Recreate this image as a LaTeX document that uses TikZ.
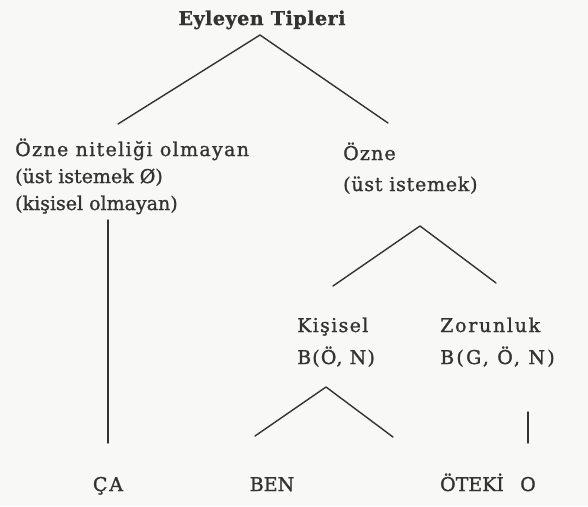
\documentclass[tikz,border=0pt]{standalone}
\usepackage{fontspec}
\setmainfont{DejaVu Serif}[FakeBold=1.2]
\definecolor{ink}{HTML}{333333}
\definecolor{paper}{HTML}{F8F8F6}
\newcommand{\ls}[1]{\addfontfeatures{LetterSpace=#1}}
\begin{document}
\begin{tikzpicture}[x=1pt,y=-1pt,
  lbl/.style={inner sep=0pt, text=ink, font=\fontsize{19}{22}\selectfont},
  branch/.style={draw=ink, line width=1.4pt, line join=round, line cap=round}]
\fill[paper] (0,0) rectangle (588,506);
\useasboundingbox (0,0) rectangle (588,506);
% labels
\node[lbl, anchor=base, font=\bfseries\fontsize{19}{22}\selectfont] (root) at (262,25) {\ls{3}Eyleyen Tipleri};
\node[lbl, anchor=base west] (nonA) at (15,156) {\ls{7}Özne niteliği olmayan};
\node[lbl, anchor=base west] (nonB) at (15,183) {(üst istemek Ø)};
\node[lbl, anchor=base west] (nonC) at (15,210) {(kişisel olmayan)};
\node[lbl, anchor=base west] (subA) at (343,160) {\ls{6}Özne};
\node[lbl, anchor=base west] (subB) at (343,191) {\ls{4}(üst istemek)};
\node[lbl, anchor=base west] (kisA) at (297,332) {\ls{7}Kişisel};
\node[lbl, anchor=base west] (kisB) at (297,364) {\ls{6}B(Ö, N)};
\node[lbl, anchor=base west] (zorA) at (440,332) {\ls{9}Zorunluk};
\node[lbl, anchor=base west] (zorB) at (440,364) {\ls{12}B(G, Ö, N)};
\node[lbl, anchor=base] (ca) at (108,491) {\ls{10}ÇA};
\node[lbl, anchor=base] (ben) at (272,491) {BEN};
\node[lbl, anchor=base] (oteki) at (472,491) {ÖTEKİ};
\node[lbl, anchor=base] (o) at (528,491) {O};
% tree points
\coordinate (t0) at (260,35);
\coordinate (t1) at (118,124);
\coordinate (t2) at (388,123);
\coordinate (v1a) at (108,220);
\coordinate (v1b) at (108,443);
\coordinate (s0) at (420,226);
\coordinate (s1) at (333,286);
\coordinate (s2) at (496,283);
\coordinate (k0) at (326,387);
\coordinate (k1) at (255,436);
\coordinate (k2) at (393,437);
\coordinate (v2a) at (528,412);
\coordinate (v2b) at (528,443);
% connectors
\draw[branch] (t1) -- (t0) -- (t2);
\draw[branch] (v1a) -- (v1b);
\draw[branch] (s1) -- (s0) -- (s2);
\draw[branch] (k1) -- (k0) -- (k2);
\draw[branch] (v2a) -- (v2b);
\end{tikzpicture}
\end{document}
